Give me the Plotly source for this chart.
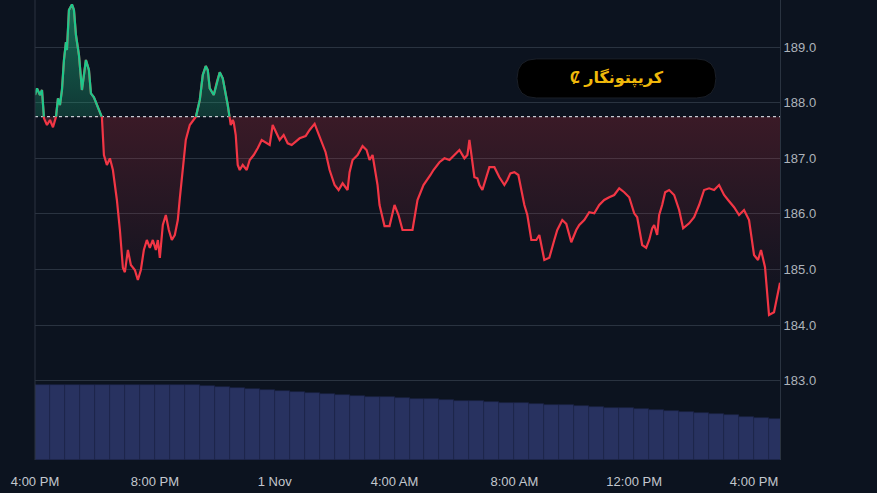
import numpy as np
import pandas as pd
import plotly.graph_objects as go

# ---------- 数据 ----------
START = pd.Timestamp("2023-10-31 16:00")
BASELINE = 187.75

# 分钟偏移（相对 10/31 16:00）
minutes = [0, 4, 10, 14, 18, 24, 30, 36, 42, 46, 50, 54, 58, 62, 64, 68, 74, 78, 82, 88,
           94, 98, 102, 108, 112, 118, 124, 134, 138, 144, 150, 156, 164, 170, 176, 180,
           186, 192, 200, 206, 212, 218, 224, 230, 236, 242, 246, 250, 256, 262, 268, 274,
           280, 286, 290, 296, 302, 310, 322, 330, 336, 342, 346, 350, 358, 364, 370, 376,
           382, 386, 392, 396, 398, 402, 406, 410, 416, 424, 430, 438, 446, 454, 460, 470,
           476, 490, 498, 506, 514, 530, 542, 550, 560, 570, 582, 590, 600, 608, 616, 626,
           630, 636, 646, 656, 664, 670, 676, 686, 690, 700, 710, 720, 728, 736, 756, 766,
           778, 792, 798, 810, 820, 830, 840, 850, 860, 866, 870, 876, 880, 886, 890, 896,
           902, 910, 920, 930, 940, 946, 952, 960, 968, 974, 980, 986, 994, 1004, 1010,
           1020, 1030, 1040, 1046, 1056, 1064, 1074, 1084, 1090, 1100, 1110, 1120, 1130,
           1140, 1150, 1160, 1170, 1180, 1190, 1200, 1206, 1216, 1224, 1230, 1236, 1240,
           1246, 1250, 1256, 1262, 1270, 1280, 1290, 1298, 1310, 1320, 1330, 1340, 1350,
           1360, 1370, 1380, 1388, 1400, 1410, 1420, 1430, 1440, 1448, 1454, 1462, 1470,
           1480, 1486, 1492]
price = [188.14, 188.26, 188.14, 188.23, 187.72, 187.60, 187.69, 187.56, 187.74, 188.08,
         187.96, 188.23, 188.77, 189.09, 188.95, 189.67, 189.77, 189.67, 189.22, 188.86,
         188.23, 188.50, 188.77, 188.59, 188.17, 188.10, 187.96, 187.74, 187.06, 186.88,
         187.00, 186.79, 186.25, 185.71, 185.03, 184.95, 185.35, 185.08, 184.99, 184.81,
         184.99, 185.35, 185.53, 185.39, 185.53, 185.35, 185.53, 185.21, 185.80, 185.98,
         185.71, 185.53, 185.62, 185.89, 186.28, 186.79, 187.33, 187.60, 187.74, 188.05,
         188.50, 188.66, 188.59, 188.26, 188.14, 188.37, 188.55, 188.44, 188.19, 187.96,
         187.60, 187.69, 187.65, 187.42, 186.88, 186.79, 186.88, 186.79, 186.97, 187.06,
         187.18, 187.33, 187.29, 187.24, 187.60, 187.33, 187.42, 187.27, 187.24, 187.36,
         187.40, 187.51, 187.62, 187.40, 187.11, 186.79, 186.52, 186.43, 186.55, 186.43,
         186.75, 186.97, 187.06, 187.22, 187.15, 186.97, 187.06, 186.52, 186.16, 185.78,
         185.78, 186.16, 185.98, 185.71, 185.71, 186.25, 186.52, 186.70, 186.79, 186.93,
         187.00, 186.97, 187.06, 187.15, 187.00, 187.06, 187.33, 186.97, 186.66, 186.64,
         186.52, 186.43, 186.61, 186.84, 186.84, 186.66, 186.52, 186.61, 186.73, 186.75,
         186.70, 186.43, 186.16, 185.98, 185.53, 185.53, 185.62, 185.17, 185.21, 185.53,
         185.71, 185.89, 185.82, 185.49, 185.71, 185.80, 185.89, 186.03, 186.01, 186.16,
         186.25, 186.30, 186.34, 186.46, 186.39, 186.30, 186.01, 185.94, 185.44, 185.39,
         185.53, 185.74, 185.80, 185.62, 185.98, 186.16, 186.39, 186.43, 186.34, 186.07,
         185.74, 185.83, 185.94, 186.16, 186.43, 186.46, 186.43, 186.52, 186.34, 186.25,
         186.12, 185.98, 186.07, 185.89, 185.26, 185.17, 185.35, 185.04, 184.18, 184.23,
         184.49, 184.76, 184.85, 184.95]

# 成交量（每30分钟一根）
volume = [75, 75, 75, 75, 75, 75, 75, 75, 75, 75, 75, 74, 73, 72, 71, 70, 69, 68, 67, 66,
          65, 64, 63, 63, 62, 61, 61, 60, 59, 59, 58, 57, 57, 56, 55, 55, 54, 53, 52, 52,
          51, 50, 49, 48, 47, 46, 45, 43, 42, 41]

tick_minutes = [0, 240, 480, 720, 960, 1200, 1440]
tick_labels = ["4:00 PM", "8:00 PM", "1 Nov", "4:00 AM", "8:00 AM", "12:00 PM", "4:00 PM"]

BG = "#0c131f"
RED = "#f23645"
GREEN = "#1fc68a"

# 插入与基准线的交点，让上下两段颜色分开
m = np.array(minutes, dtype=float)
p = np.array(price)
dm, dp = [m[0]], [p[0]]
for i in range(1, len(m)):
    a, b = p[i - 1] - BASELINE, p[i] - BASELINE
    if a * b < 0:
        f = a / (a - b)
        dm.append(m[i - 1] + f * (m[i] - m[i - 1]))
        dp.append(BASELINE)
    dm.append(m[i])
    dp.append(p[i])
dm, dp = np.array(dm), np.array(dp)
t = START + pd.to_timedelta(dm, unit="min")

below = np.minimum(dp, BASELINE)
above = np.maximum(dp, BASELINE)
green = np.where(dp >= BASELINE, dp, np.nan)
base = np.full(len(dp), BASELINE)

vol_t = START + pd.to_timedelta(np.arange(len(volume)) * 30 + 15, unit="min")

fig = go.Figure()

fig.add_trace(go.Bar(x=vol_t, y=volume, yaxis="y2", marker_color="#283260",
                     marker_line=dict(width=0.6, color="#1c2347"),
                     width=30 * 60 * 1000, hoverinfo="skip"))

# 红色填充
fig.add_trace(go.Scatter(x=t, y=base, mode="lines", line=dict(width=0), hoverinfo="skip"))
fig.add_trace(go.Scatter(x=t, y=below, mode="lines", line=dict(width=0), fill="tonexty",
                         fillgradient=dict(type="vertical", start=184.2, stop=BASELINE,
                                           colorscale=[[0, "rgba(242,54,69,0.0)"],
                                                       [1, "rgba(242,54,69,0.2)"]]),
                         hoverinfo="skip"))
# 绿色填充
fig.add_trace(go.Scatter(x=t, y=base, mode="lines", line=dict(width=0), hoverinfo="skip"))
fig.add_trace(go.Scatter(x=t, y=above, mode="lines", line=dict(width=0), fill="tonexty",
                         fillgradient=dict(type="vertical", start=BASELINE, stop=189.8,
                                           colorscale=[[0, "rgba(31,198,138,0.2)"],
                                                       [1, "rgba(31,198,138,0.5)"]]),
                         hoverinfo="skip"))

# 基准虚线
fig.add_trace(go.Scatter(x=[t[0], t[-1]], y=[BASELINE, BASELINE], mode="lines",
                         line=dict(color="#c8ccd4", width=1.2, dash="dot"), hoverinfo="skip"))

fig.add_trace(go.Scatter(x=t, y=dp, mode="lines", line=dict(color=RED, width=2.2)))
fig.add_trace(go.Scatter(x=t, y=green, mode="lines", line=dict(color=GREEN, width=2.2),
                         connectgaps=False))

# 左侧竖线
fig.add_shape(type="line", xref="paper", yref="paper", x0=0, x1=0, y0=0, y1=1,
              line=dict(color="#2a3340", width=1))

# 品牌徽章（圆角矩形）
x0, x1, y0, y1, rx, ry = 0.647, 0.914, 0.787, 0.872, 0.026, 0.042
path = (f"M {x0+rx} {y0} L {x1-rx} {y0} Q {x1} {y0} {x1} {(y0+y1)/2} "
        f"Q {x1} {y1} {x1-rx} {y1} L {x0+rx} {y1} Q {x0} {y1} {x0} {(y0+y1)/2} "
        f"Q {x0} {y0} {x0+rx} {y0} Z")
fig.add_shape(type="path", path=path, xref="paper", yref="paper",
              fillcolor="#000000", line=dict(color="#1a1f28", width=1),
              label=dict(text="<b>Ȼ کریپتونگار</b>", textposition="middle center",
                         font=dict(color="#f0b90b", size=16, family="Noto Sans, DejaVu Sans")))

fig.update_layout(
    width=877, height=493,
    paper_bgcolor=BG, plot_bgcolor=BG,
    margin=dict(l=35, r=97, t=0, b=33),
    showlegend=False,
    bargap=0,
    font=dict(family="Liberation Sans, Arial", color="#c3c7ce", size=13),
    xaxis=dict(range=[START, START + pd.Timedelta(minutes=1492)],
               tickvals=START + pd.to_timedelta(tick_minutes, unit="min"),
               ticktext=tick_labels, showgrid=False, zeroline=False, showline=False,
               ticks="outside", ticklen=9, tickcolor="rgba(0,0,0,0)",
               tickfont=dict(size=13, color="#c3c7ce")),
    yaxis=dict(side="right", range=[181.57, 189.85], tickvals=[183, 184, 185, 186, 187, 188, 189],
               tickformat=".1f", gridcolor="#2a3340", gridwidth=1, zeroline=False,
               showline=True, linecolor="#2a3340", ticks="", ticklen=0,
               tickfont=dict(size=13, color="#aeb3bb")),
    yaxis2=dict(overlaying="y", range=[0, 460], visible=False),
)

fig.write_html("out.html", config={"displayModeBar": False},
               post_script="document.body.style.margin='0';")
